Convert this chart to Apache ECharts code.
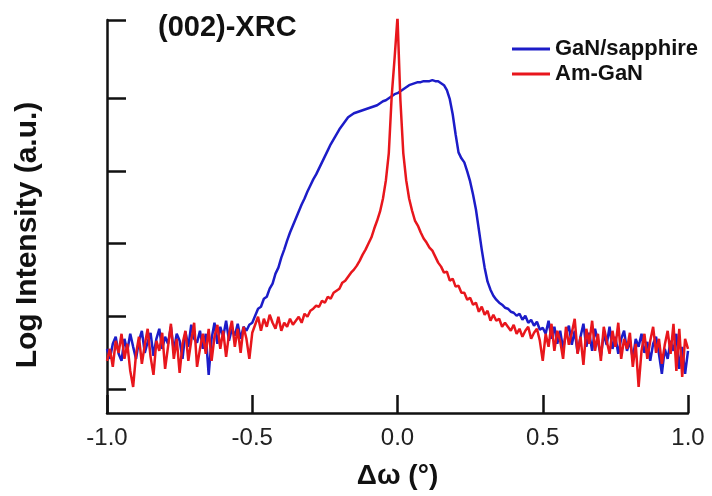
<!DOCTYPE html>
<html>
<head>
<meta charset="utf-8">
<script src="https://cdn.jsdelivr.net/npm/echarts@6/dist/echarts.min.js"></script>
<style>
html,body{margin:0;padding:0;background:#fff;}
#chart{width:712px;height:496px;}
</style>
</head>
<body>
<div id="chart"></div>
<script>
// Scan grid: Δω from -1.00° to 1.00° in 0.01° steps
const scanStart = -1.0;
const scanStep = 0.01;

// Log intensity (arbitrary units), GaN/sapphire
const gaNSapphire = [
  40,30,45,52,35,28,50,38,55,42,
  30,48,58,36,47,56,33,50,60,40,
  52,45,62,38,55,48,30,57,42,64,
  50,46,58,40,55,14,50,66,45,62,
  52,68,48,60,53,65,50,62,58,64,
  66,
  73,80,82,90,92,100,105,115,121,131,
  139,148,156,163,170,177,184,190,197,203,
  209,214,220,226,232,238,244,249,254,259,
  263,267,271,273,275,276,277,278,279,280,
  281,282,283,285,287,288,290,292,294,295,
  297,299,301,303,304,305,306,306,307,307,
  307,308,307,307,305,303,298,289,274,254,
  236,230,226,217,207,194,179,159,139,121,
  107,99,93,89,86,84,81,80,77,76,
  73,75,69,73,66,69,63,67,59,61,
  55,68,50,62,45,58,40,55,63,44,
  58,36,52,65,42,56,38,60,47,33,
  55,44,62,40,52,35,50,58,38,48,
  30,50,42,55,36,47,28,45,52,35,
  15,40,30,48,38,55,20,42,15,38
];

// Log intensity (arbitrary units), Am-GaN
const amGaN = [
  28,40,22,48,36,55,30,45,18,2,
  35,52,25,44,60,32,14,48,38,56,
  20,42,65,30,50,16,45,58,28,48,
  66,22,40,55,35,60,28,52,64,40,
  58,32,55,68,42,60,36,62,50,30,
  56,
  64,72,58,70,62,74,66,60,72,58,
  66,62,70,64,68,72,66,75,72,78,
  80,83,82,88,86,92,90,96,98,100,
  106,108,112,116,119,123,128,134,139,145,
  151,160,168,177,190,208,235,292,330,371,
  288,235,208,190,178,168,163,156,150,146,
  141,138,132,126,122,116,117,108,110,102,
  103,96,96,89,91,84,86,77,82,74,
  78,68,74,68,70,62,66,62,58,64,
  55,60,52,58,62,50,56,60,48,28,
  55,42,65,38,58,48,30,62,44,56,
  70,35,52,24,60,45,68,38,55,28,
  62,48,35,58,42,66,30,50,40,56,
  22,45,2,38,55,30,48,62,36,50,
  25,44,58,35,65,18,60,12,50,40
];

const seriesNames = ['GaN/sapphire', 'Am-GaN'];
const yTickValues = [0, 72.5, 145, 217.5, 290, 368];

function pairs(vals) {
  const out = [];
  for (let i = 0; i < vals.length; i++) {
    out.push([+(scanStart + i * scanStep).toFixed(2), vals[i]]);
  }
  return out;
}

const FONT = '"Liberation Sans", Arial, sans-serif';
const chart = echarts.init(document.getElementById('chart'), null, {renderer: 'canvas'});
chart.setOption({
  animation: false,
  backgroundColor: '#ffffff',
  title: {
    text: '(002)-XRC',
    left: 153, top: 8,
    textStyle: {fontFamily: FONT, fontSize: 29, fontWeight: 'bold', color: '#111'}
  },
  legend: {
    data: seriesNames,
    orient: 'vertical',
    left: 507, top: 33,
    icon: 'rect',
    itemWidth: 38, itemHeight: 3, itemGap: 3,
    textStyle: {fontFamily: FONT, fontSize: 22, fontWeight: 'bold', color: '#111'}
  },
  grid: {left: 107, right: 24, top: 20, bottom: 83, containLabel: false},
  xAxis: {
    type: 'value',
    min: -1, max: 1, interval: 0.5,
    name: 'Δω (°)',
    nameLocation: 'middle',
    nameGap: 49,
    nameTextStyle: {fontFamily: FONT, fontSize: 28, fontWeight: 'bold', color: '#111'},
    axisLine: {show: true, onZero: false, lineStyle: {color: '#111', width: 2.5}},
    axisTick: {show: true, inside: true, length: 18, lineStyle: {color: '#111', width: 2.5}},
    axisLabel: {
      fontFamily: FONT, fontSize: 24, color: '#222', margin: 13,
      formatter: v => v.toFixed(1)
    },
    splitLine: {show: false}
  },
  yAxis: {
    type: 'value',
    min: -24, max: 368,
    name: 'Log Intensity (a.u.)',
    nameLocation: 'middle',
    nameRotate: 90,
    nameGap: 64,
    nameTextStyle: {fontFamily: FONT, fontSize: 30, fontWeight: 'bold', color: '#111', padding: [0, 37, 0, 0]},
    axisLine: {show: true, onZero: false, lineStyle: {color: '#111', width: 2.5}},
    axisTick: {show: true, inside: true, length: 19, customValues: yTickValues, lineStyle: {color: '#111', width: 2.5}},
    axisLabel: {show: false},
    splitLine: {show: false}
  },
  series: [
    {
      name: seriesNames[0], type: 'line', symbol: 'none',
      data: pairs(gaNSapphire),
      lineStyle: {color: '#1c1cc8', width: 2.5},
      itemStyle: {color: '#1c1cc8'},
      z: 2
    },
    {
      name: seriesNames[1], type: 'line', symbol: 'none',
      data: pairs(amGaN),
      lineStyle: {color: '#e8161c', width: 2.5},
      itemStyle: {color: '#e8161c'},
      z: 3
    }
  ]
});
</script>
</body>
</html>
